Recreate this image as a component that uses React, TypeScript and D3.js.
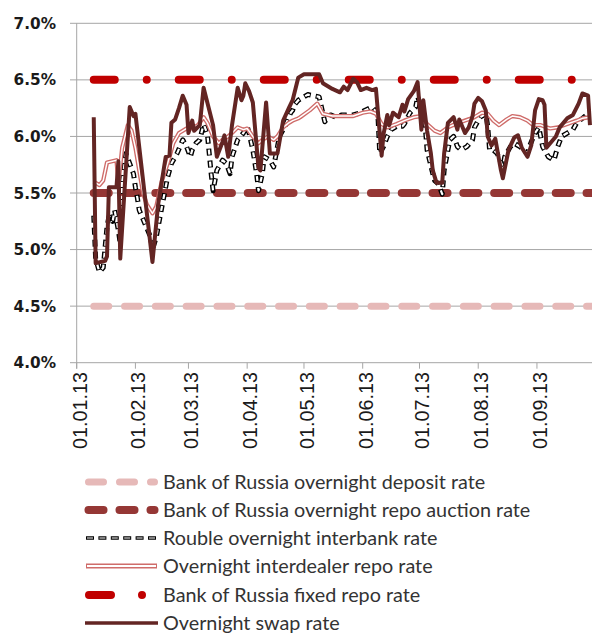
import React from "react";
import * as d3 from "d3";

// ---- data (day offsets from 01.01.2013, rate in %) ----
const yearStart = new Date(2013, 0, 1);
const policyDays = [9, 272];
const depositRate = [4.5, 4.5];
const repoAuctionRate = [5.5, 5.5];
const fixedRepoRate = [6.5, 6.5];

const interbankRate: [number, number][] = [
  [9, 5.3], [10, 4.92], [12, 4.8], [14, 4.84], [16, 5.2], [17, 5.29], [19, 5.25], [20, 5.35], [22, 5.17], [23, 5.05],
  [24, 5.6], [26, 5.85], [28, 5.76], [30, 5.67], [31, 5.55], [32, 5.46], [33, 5.35], [36, 5.23], [39, 5.11], [40, 5.0],
  [42, 5.11], [45, 5.38], [48, 5.64], [50, 5.76], [53, 5.85], [56, 5.97], [58, 5.91], [60, 5.82], [61, 5.88], [63, 5.94],
  [65, 5.97], [67, 6.11], [69, 6.02], [71, 5.67], [72, 5.52], [74, 5.7], [77, 5.79], [79, 5.76], [81, 5.67], [82, 5.82],
  [85, 5.97], [88, 6.03], [90, 6.09], [91, 6.03], [93, 5.88], [95, 5.67], [96, 5.52], [98, 5.67], [99, 5.82], [102, 5.79],
  [104, 5.73], [106, 5.91], [107, 6.0], [110, 6.09], [113, 6.21], [114, 6.23], [115, 6.28], [117, 6.32], [122, 6.37], [128, 6.35],
  [130, 6.2], [131, 6.13], [134, 6.19], [137, 6.17], [140, 6.19], [143, 6.19], [146, 6.19], [150, 6.21], [152, 6.23], [156, 6.26],
  [159, 6.2], [160, 5.85], [162, 5.91], [164, 6.0], [166, 6.06], [169, 6.09], [172, 6.09], [173, 6.11], [176, 6.21], [179, 6.26],
  [180, 6.35], [182, 6.26], [184, 6.09], [185, 5.88], [188, 5.67], [189, 5.61], [191, 5.58], [193, 5.49], [194, 5.7], [196, 5.88],
  [197, 5.97], [199, 6.0], [201, 5.91], [203, 5.88], [206, 5.91], [209, 5.97], [210, 6.08], [213, 6.17], [216, 6.2], [217, 6.09],
  [218, 5.88], [220, 5.88], [222, 5.85], [225, 5.73], [226, 5.82], [229, 5.91], [231, 5.94], [234, 5.91], [236, 5.88], [238, 5.85],
  [239, 5.91], [242, 6.03], [244, 6.08], [246, 5.91], [249, 5.82], [252, 5.79], [254, 5.91], [256, 6.0], [259, 6.03], [262, 6.06],
  [264, 6.12], [267, 6.16], [270, 6.2], [271, 6.2],
];

const interdealerRepoRate: [number, number][] = [
  [9, 5.6], [12, 5.57], [14, 5.61], [16, 5.77], [21, 5.79], [22, 5.58], [24, 5.9], [27, 6.1], [29, 6.05], [31, 5.9],
  [33, 5.7], [35, 5.5], [37, 5.4], [40, 5.32], [42, 5.38], [45, 5.61], [48, 5.76], [51, 5.94], [54, 6.03], [57, 6.06],
  [59, 6.08], [61, 6.07], [64, 6.1], [67, 6.17], [69, 6.12], [72, 6.0], [75, 5.94], [77, 5.97], [80, 6.0], [82, 6.03],
  [85, 6.08], [88, 6.06], [90, 6.07], [93, 6.0], [96, 5.94], [98, 5.97], [101, 6.0], [104, 5.97], [106, 6.0], [109, 6.08],
  [112, 6.12], [114, 6.14], [117, 6.16], [118, 6.17], [123, 6.23], [127, 6.29], [130, 6.2], [135, 6.18], [141, 6.18], [146, 6.18],
  [151, 6.21], [155, 6.22], [158, 6.2], [161, 6.11], [164, 6.08], [169, 6.11], [173, 6.14], [178, 6.17], [182, 6.18], [185, 6.11],
  [189, 6.05], [192, 6.03], [196, 6.08], [200, 6.11], [205, 6.14], [210, 6.17], [214, 6.21], [217, 6.2], [220, 6.14], [223, 6.1],
  [227, 6.15], [230, 6.18], [234, 6.17], [238, 6.14], [241, 6.1], [245, 6.1], [248, 6.08], [250, 6.07], [254, 6.08], [259, 6.11],
  [264, 6.14], [267, 6.16], [271, 6.17],
];

const swapRate: [number, number][] = [
  [9, 6.17], [10, 4.88], [15, 4.9], [16, 4.94], [17, 5.55], [21, 5.55], [22, 5.78], [23, 4.92], [28, 6.26], [30, 6.18],
  [31, 6.2], [40, 4.89], [43, 5.4], [47, 5.82], [49, 5.83], [50, 6.12], [52, 6.15], [54, 6.25], [56, 6.36], [58, 6.28],
  [59, 6.03], [61, 6.14], [62, 6.05], [65, 6.1], [67, 6.43], [72, 6.1], [74, 5.82], [77, 5.95], [78, 6.01], [80, 5.82],
  [82, 6.1], [85, 6.43], [87, 6.32], [88, 6.36], [89, 6.47], [91, 6.4], [93, 6.3], [96, 5.72], [97, 5.7], [98, 5.9],
  [100, 6.3], [102, 5.85], [106, 5.85], [109, 6.14], [112, 6.25], [114, 6.32], [117, 6.52], [120, 6.55], [128, 6.55], [130, 6.47],
  [135, 6.42], [139, 6.39], [141, 6.44], [143, 6.41], [146, 6.51], [148, 6.48], [150, 6.41], [153, 6.43], [156, 6.41], [158, 6.42],
  [161, 5.83], [162, 6.02], [164, 6.19], [165, 6.1], [167, 6.21], [170, 6.17], [172, 6.28], [173, 6.22], [175, 6.33], [178, 6.4],
  [180, 6.48], [182, 6.06], [183, 6.32], [185, 6.05], [187, 5.85], [188, 5.7], [190, 5.59], [193, 5.59], [194, 5.85], [196, 6.12],
  [199, 6.17], [201, 6.06], [202, 6.15], [205, 6.03], [207, 6.08], [209, 6.18], [210, 6.29], [212, 6.34], [214, 6.31], [216, 6.23],
  [217, 6.0], [219, 5.92], [221, 5.98], [224, 5.7], [225, 5.63], [228, 5.88], [231, 5.99], [233, 6.01], [235, 5.9], [238, 5.82],
  [240, 5.92], [242, 6.23], [244, 6.33], [246, 6.32], [247, 6.28], [248, 5.9], [253, 6.0], [255, 6.08], [259, 6.16], [262, 6.19],
  [265, 6.29], [267, 6.38], [270, 6.36], [271, 6.1],
];

const yTicks = [4.0, 4.5, 5.0, 5.5, 6.0, 6.5, 7.0];
const yTickLabels = ["4.0%", "4.5%", "5.0%", "5.5%", "6.0%", "6.5%", "7.0%"];
const xTickDates = ["2013-01-01", "2013-02-01", "2013-03-01", "2013-04-01", "2013-05-01", "2013-06-01", "2013-07-01", "2013-08-01", "2013-09-01"];
const xTickLabels = ["01.01.13", "01.02.13", "01.03.13", "01.04.13", "01.05.13", "01.06.13", "01.07.13", "01.08.13", "01.09.13"];
const legendLabels = [
  "Bank of Russia overnight deposit rate",
  "Bank of Russia overnight repo auction rate",
  "Rouble overnight interbank rate",
  "Overnight interdealer repo rate",
  "Bank of Russia fixed repo rate",
  "Overnight swap rate",
];

const C = {
  deposit: "#e6b9b8",
  auction: "#953735",
  fixed: "#c00000",
  swap: "#632523",
  interdealer: "#cf6c6a",
  grid: "#a6a6a6",
};

const dayToDate = (d: number) => d3.timeDay.offset(yearStart, d);

export default function App() {
  const W = 592, H = 633;
  const x0 = 76.7;
  const x = d3.scaleTime().domain([yearStart, dayToDate(272)]).range([x0, x0 + 272 * 1.894]);
  const y = d3.scaleLinear().domain([4, 7]).range([362.7, 23.3]);

  const line = d3.line<[number, number]>()
    .x((p) => x(dayToDate(p[0])))
    .y((p) => y(p[1]));

  const policy = (vals: number[]) => line(policyDays.map((d, i) => [d, vals[i]] as [number, number])) || "";

  const plotRight = W;
  const legendX0 = 88.5, legendX1 = 154.5;
  const legendY = [482, 510, 538, 566, 595, 623];

  return (
    <svg width={W} height={H} style={{ position: "absolute", left: 0, top: 0, background: "#fff" }}>
      {/* grid */}
      {yTicks.map((t) => (
        <line key={t} x1={70} x2={plotRight} y1={y(t)} y2={y(t)} stroke={C.grid} strokeWidth={1} />
      ))}
      <line x1={x0} x2={x0} y1={y(7)} y2={y(4) + 6} stroke={C.grid} strokeWidth={1} />
      {xTickDates.map((s) => {
        const xx = x(new Date(s + "T00:00:00"));
        return <line key={s} x1={xx} x2={xx} y1={y(4)} y2={y(4) + 6} stroke={C.grid} strokeWidth={1} />;
      })}
      {/* y labels */}
      {yTicks.map((t, i) => (
        <text key={t} x={56} y={y(t)} dy="0.36em" textAnchor="end" fontFamily="DejaVu Sans" fontWeight="bold" fontSize={15.3} fill="#1a1a1a">
          {yTickLabels[i]}
        </text>
      ))}
      {/* x labels */}
      {xTickDates.map((s, i) => {
        const xx = x(new Date(s + "T00:00:00"));
        return (
          <text key={s} transform={`translate(${xx + 3},372) rotate(-90)`} dy="0.35em" textAnchor="end" fontFamily="Liberation Sans" fontSize={19.8} fill="#1a1a1a">
            {xTickLabels[i]}
          </text>
        );
      })}

      {/* series */}
      <path d={policy(depositRate)} fill="none" stroke={C.deposit} strokeWidth={7} strokeLinecap="round" strokeDasharray="15 15.8" />
      <path d={policy(repoAuctionRate)} fill="none" stroke={C.auction} strokeWidth={8} strokeLinecap="round" strokeDasharray="15 15.8" />
      <path d={line(interbankRate) || ""} fill="none" stroke="#000" strokeWidth={5} strokeDasharray="7 5" strokeLinejoin="round" />
      <path d={line(interbankRate) || ""} fill="none" stroke="#fff" strokeWidth={2.2} strokeDasharray="5 7" strokeDashoffset={-1} strokeLinejoin="round" />
      <path d={line(interdealerRepoRate) || ""} fill="none" stroke={C.interdealer} strokeWidth={4.2} strokeLinejoin="round" />
      <path d={line(interdealerRepoRate) || ""} fill="none" stroke="#fff" strokeWidth={1.5} strokeLinejoin="round" />
      <path d={policy(fixedRepoRate)} fill="none" stroke={C.fixed} strokeWidth={8} strokeLinecap="round" strokeDasharray="21 32 0 32" />
      <path d={line(swapRate) || ""} fill="none" stroke={C.swap} strokeWidth={4} strokeLinejoin="round" />

      {/* legend */}
      <g>
        <line x1={legendX0} x2={legendX1} y1={legendY[0]} y2={legendY[0]} stroke={C.deposit} strokeWidth={7} strokeLinecap="round" strokeDasharray="15 16" />
        <line x1={legendX0} x2={legendX1} y1={legendY[1]} y2={legendY[1]} stroke={C.auction} strokeWidth={8} strokeLinecap="round" strokeDasharray="15 16" />
        <line x1={86} x2={158} y1={legendY[2]} y2={legendY[2]} stroke="#000" strokeWidth={3.5} strokeDasharray="8 4.4" />
        <line x1={86} x2={158} y1={legendY[2]} y2={legendY[2]} stroke="#fff" strokeWidth={1.2} strokeDasharray="6 6.4" strokeDashoffset={-1} />
        <line x1={86} x2={157} y1={legendY[3]} y2={legendY[3]} stroke={C.interdealer} strokeWidth={5} />
        <line x1={87} x2={156} y1={legendY[3]} y2={legendY[3]} stroke="#fff" strokeWidth={2.2} />
        <line x1={89} x2={146} y1={legendY[4]} y2={legendY[4]} stroke={C.fixed} strokeWidth={8} strokeLinecap="round" strokeDasharray="22 31 0 40" />
        <line x1={85} x2={158} y1={legendY[5]} y2={legendY[5]} stroke={C.swap} strokeWidth={3.5} />
        {legendLabels.map((t, i) => (
          <text key={t} x={163} y={legendY[i]} dy="0.35em" fontFamily="Lato" fontSize={19.8} fill="#333">
            {t}
          </text>
        ))}
      </g>
    </svg>
  );
}
